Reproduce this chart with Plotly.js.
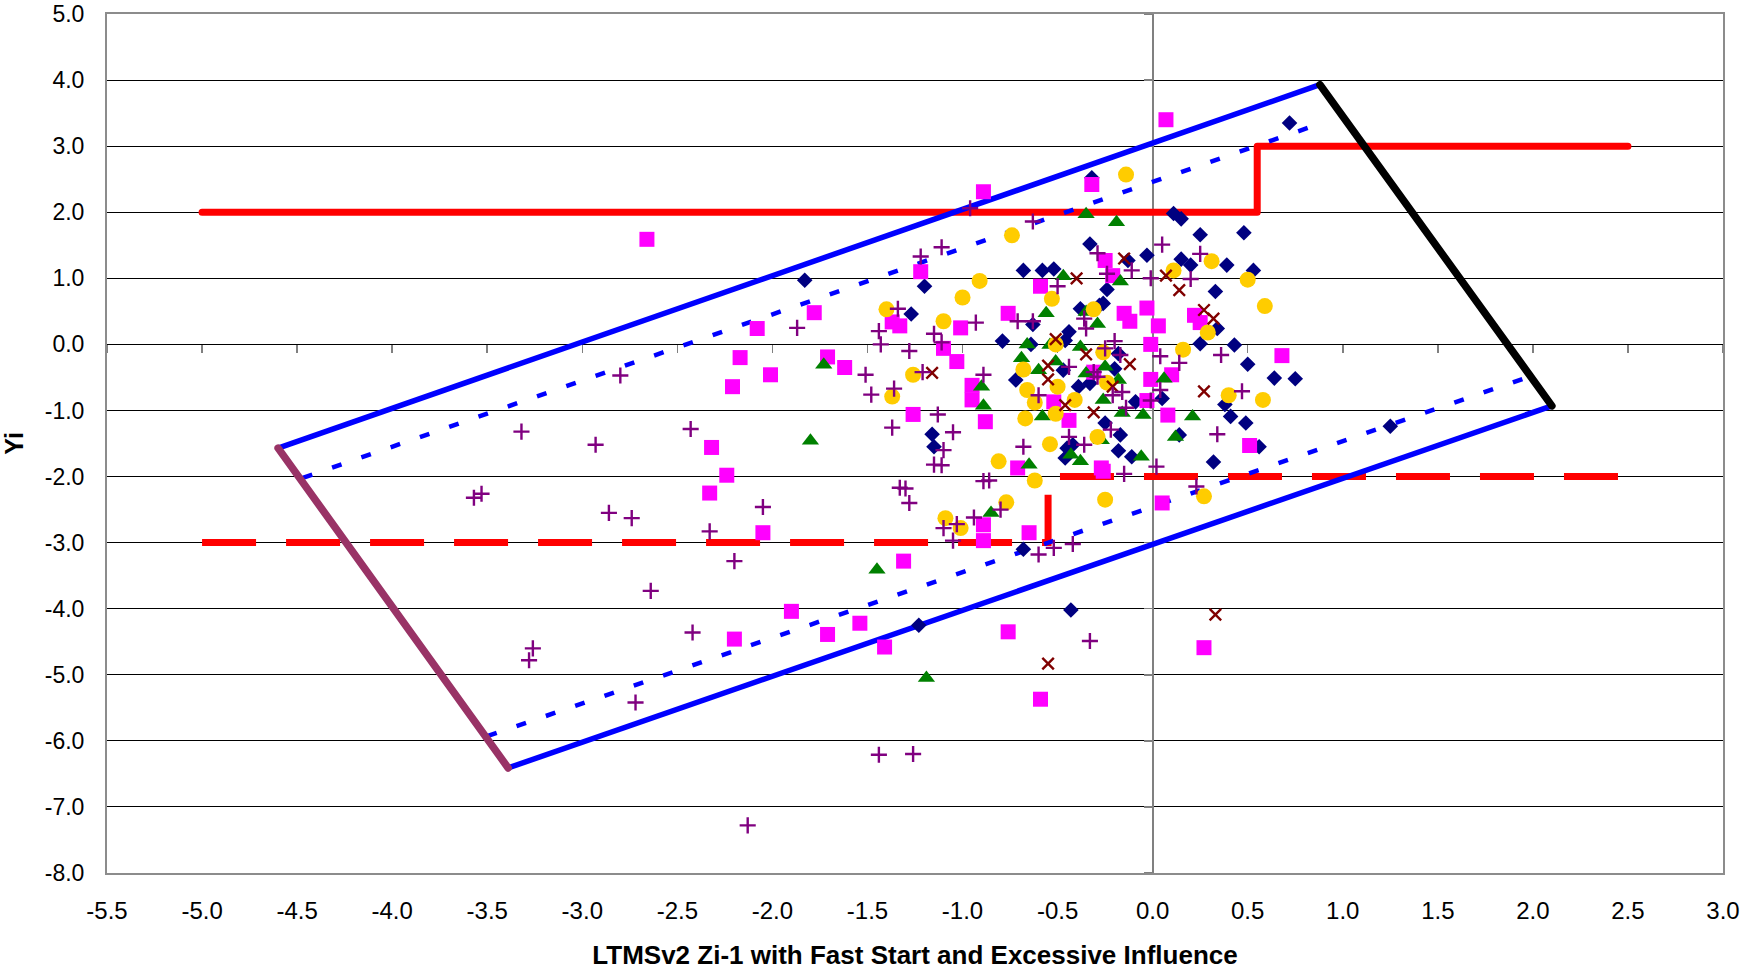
<!DOCTYPE html>
<html>
<head>
<meta charset="utf-8">
<script src="https://cdn.plot.ly/plotly-3.0.1.min.js"></script>
<style>
  html, body { margin: 0; padding: 0; background: #fff; }
  #chart { width: 1741px; height: 971px; }
  .traceredsolid .js-line, .traceblackedge .js-line, .tracemaroonedge .js-line { stroke-linecap: round; stroke-linejoin: round; }
</style>
</head>
<body>
<div id="chart"></div>
<script>
// ---------- tick labels ----------
const xTickVals = [-5.5, -5.0, -4.5, -4.0, -3.5, -3.0, -2.5, -2.0, -1.5, -1.0, -0.5, 0.0, 0.5, 1.0, 1.5, 2.0, 2.5, 3.0];
const xTickText = ['-5.5', '-5.0', '-4.5', '-4.0', '-3.5', '-3.0', '-2.5', '-2.0', '-1.5', '-1.0', '-0.5', '0.0', '0.5', '1.0', '1.5', '2.0', '2.5', '3.0'];
const yTickVals = [5, 4, 3, 2, 1, 0, -1, -2, -3, -4, -5, -6, -7, -8];
const yTickText = ['5.0', '4.0', '3.0', '2.0', '1.0', '0.0', '-1.0', '-2.0', '-3.0', '-4.0', '-5.0', '-6.0', '-7.0', '-8.0'];

// ---------- limit / boundary lines ----------
const upperLimitX = [-5.0, 0.55, 0.55, 2.5];
const upperLimitY = [2.0, 2.0, 3.0, 3.0];
const lowerLimitX = [-5.0, -0.55, -0.55, 2.5];
const lowerLimitY = [-3.0, -3.0, -2.0, -2.0];
const outerTopX = [-4.60, 0.88];
const outerTopY = [-1.57, 3.93];
const outerBottomX = [-3.39, 2.10];
const outerBottomY = [-6.41, -0.93];
const innerTopX = [-4.47, 0.89];
const innerTopY = [-2.02, 3.35];
const innerBottomX = [-3.50, 1.95];
const innerBottomY = [-5.93, -0.52];
const rightEdgeX = [0.88, 2.10];
const rightEdgeY = [3.93, -0.93];
const leftEdgeX = [-4.60, -3.39];
const leftEdgeY = [-1.57, -6.41];

// ---------- series: navy diamonds ----------
const navyX = [-1.83, -1.20, -1.27, -0.68, -0.58, -0.52, -0.32, -0.33, -0.24, -0.26, -0.38, -0.79, -0.63, -0.44, -0.46, -0.64, -0.28, -0.72, -0.47, -0.39, -0.33, -0.20, -0.18, -0.09, 0.05, -0.25, -0.17, -0.18, -0.11, -0.45, -0.46, -0.42, 0.14, -1.16, -1.15, -0.68, -0.43, -1.23, 0.72, 0.25, 0.48, -0.03, 0.15, 0.20, 0.39, 0.53, -0.13, 0.11, 0.15, 0.33, 0.25, 0.43, 0.34, 0.50, 0.64, 0.75, 0.38, 0.41, 0.49, 0.56, 0.32, 1.25];
const navyY = [0.97, 0.88, 0.46, 1.12, 1.12, 1.14, 2.52, 1.52, 0.83, 0.62, 0.54, 0.05, 0.30, 0.19, 0.06, 0.00, 0.59, -0.54, -0.39, -0.64, -0.59, -0.37, -0.14, -0.87, -0.82, -1.19, -1.37, -1.61, -1.70, -1.57, -1.72, -1.52, -1.37, -1.36, -1.55, -3.10, -4.02, -4.25, 3.35, 1.66, 1.69, 1.35, 1.29, 1.20, 1.20, 1.12, 1.27, 1.98, 1.90, 0.80, 0.01, -0.01, 0.24, -0.30, -0.51, -0.52, -0.91, -1.09, -1.19, -1.55, -1.78, -1.24];

// ---------- series: magenta squares ----------
const magentaX = [-2.66, -1.78, -2.08, -2.17, -2.01, -2.21, -1.71, -1.62, -0.89, -0.32, -0.25, -0.21, -1.22, -0.59, -0.15, -0.12, -1.37, -1.33, -1.01, -1.10, -1.03, -0.76, -0.03, 0.03, 0.22, 0.25, -0.01, -0.01, 0.10, 0.08, -0.03, -0.44, -0.52, -0.31, -0.71, -0.27, 0.07, 0.68, 0.51, 0.05, 0.27, -0.26, -1.26, -0.88, -0.95, -0.95, -0.89, -0.89, -0.65, -1.31, -0.76, -2.32, -2.24, -2.33, -2.05, -1.90, -1.71, -1.54, -2.20, -1.41, -0.59];
const magentaY = [1.59, 0.48, 0.24, -0.20, -0.46, -0.64, -0.19, -0.35, 2.31, 2.42, 1.27, 1.04, 1.10, 0.88, 0.47, 0.35, 0.34, 0.28, 0.25, -0.06, -0.26, 0.47, 0.55, 0.28, 0.44, 0.33, 0.00, -0.53, -0.46, -1.07, -0.85, -1.15, -0.87, -0.42, -1.87, -1.87, 3.40, -0.17, -1.53, -2.40, -4.59, -1.92, -1.06, -1.17, -0.62, -0.84, -2.73, -2.97, -2.85, -3.28, -4.35, -1.56, -1.98, -2.25, -2.85, -4.04, -4.39, -4.22, -4.46, -4.58, -5.37];

// ---------- series: green triangles ----------
const greenX = [-1.73, -0.35, -0.19, -0.17, -0.47, -0.56, -0.35, -0.29, -0.66, -0.54, -0.38, -0.69, -0.60, -0.51, -0.25, -0.35, -0.18, -0.26, -0.16, -0.05, -0.58, 0.06, 0.12, -0.43, -0.38, -0.06, -0.65, -0.27, 0.21, -0.90, -0.89, -0.85, -1.80, -1.45, -1.19];
const greenY = [-0.31, 1.97, 1.85, 0.95, 1.03, 0.47, 0.49, 0.31, 0.00, -0.01, -0.04, -0.21, -0.39, -0.26, -0.34, -0.44, -0.54, -0.84, -1.04, -1.07, -1.09, -0.52, -1.40, -1.67, -1.77, -1.70, -1.82, -1.45, -1.09, -0.64, -0.93, -2.55, -1.46, -3.41, -5.05];

// ---------- series: yellow circles ----------
const yellowX = [-1.40, -1.37, -0.74, -0.14, -0.91, -1.00, -0.53, -0.31, -1.10, -0.51, -0.26, -1.26, 0.16, -0.68, -0.66, -0.62, -0.50, -0.41, -0.24, -0.51, -0.67, -0.54, -0.29, -0.81, 0.31, 0.11, 0.50, 0.59, 0.29, 0.40, 0.58, -0.25, 0.27, -0.62, -0.77, -1.09, -1.01];
const yellowY = [0.53, -0.79, 1.65, 2.57, 0.96, 0.71, 0.69, 0.53, 0.35, 0.00, -0.12, -0.46, -0.08, -0.38, -0.69, -0.88, -0.64, -0.84, -0.58, -1.05, -1.12, -1.51, -1.40, -1.77, 1.26, 1.12, 0.98, 0.58, 0.18, -0.77, -0.84, -2.35, -2.30, -2.06, -2.39, -2.63, -2.78];

// ---------- series: dark red crosses (x) ----------
const crossX = [-0.15, -0.40, -1.16, -0.51, -0.35, -0.55, -0.55, -0.12, -0.46, -0.31, -0.21, 0.07, 0.14, 0.27, 0.32, 0.27, 0.33, -0.55];
const crossY = [1.30, 1.00, -0.43, 0.08, -0.15, -0.32, -0.53, -0.30, -0.92, -1.03, -0.64, 1.04, 0.82, 0.52, 0.39, -0.71, -4.09, -4.83];

// ---------- series: purple plus ----------
const plusX = [-3.32, -3.57, -3.53, -3.26, -3.28, -2.93, -2.80, -2.86, -2.74, -2.64, -2.72, -2.43, -2.42, -2.33, -2.20, -2.05, -2.13, -1.87, -1.44, -1.26, -1.44, -1.43, -1.51, -1.48, -1.36, -1.37, -1.33, -1.34, -1.22, -1.11, -0.96, -0.63, -0.29, -0.24, -0.50, -0.36, -0.35, -0.93, -0.71, -0.63, -1.15, -1.11, -1.28, -1.21, -0.89, -0.20, -0.25, -0.17, 0.04, 0.14, -0.44, -0.31, -0.29, -0.60, -0.21, 0.04, -0.01, -0.14, -0.22, -0.44, -0.36, -0.68, 0.02, -1.13, -1.05, -1.10, -1.15, -1.11, -0.89, -0.86, -1.30, -1.28, -0.80, -0.94, -1.10, -1.03, -1.05, -0.60, -0.52, -0.42, -0.15, -0.33, -0.16, 0.05, 0.25, -0.11, -0.01, 0.20, 0.36, 0.47, 0.34, 0.23];
const plusY = [-1.32, -2.32, -2.26, -4.60, -4.78, -1.52, -0.47, -2.55, -2.63, -3.73, -5.42, -1.28, -4.36, -2.83, -3.28, -2.46, -7.28, 0.25, -6.21, -6.20, 0.20, 0.00, -0.46, -0.76, -0.67, -1.26, -2.17, 0.54, 1.33, 1.47, 2.06, 1.86, 1.38, 1.07, 0.88, 0.39, 0.24, 0.33, 0.35, 0.35, 0.16, 0.03, -0.10, -0.42, -0.46, 0.05, -0.06, -0.16, -0.18, -0.28, -0.34, -0.42, -0.49, -0.77, -0.77, -0.69, -0.85, -0.96, -1.29, -1.40, -1.52, -1.55, -1.85, -1.06, -1.33, -1.60, -1.82, -1.83, -2.07, -2.06, -2.18, -2.40, -2.50, -2.62, -2.78, -2.72, -2.97, -3.18, -3.08, -3.02, -1.96, -4.49, -0.72, 1.51, 1.37, 1.12, 1.00, 0.99, -0.16, -0.71, -1.36, -2.15];

// ---------- build traces ----------
function lineTrace(x, y, color, width, dash, uid) {
  const t = { type: 'scatter', mode: 'lines', x: x, y: y, hoverinfo: 'skip',
              line: { color: color, width: width, dash: dash || 'solid' } };
  if (uid) t.uid = uid;
  return t;
}
function markerTrace(x, y, symbol, size, color, lineWidth) {
  const m = { symbol: symbol, size: size, color: color };
  m.line = lineWidth ? { color: color, width: lineWidth } : { width: 0 };
  return { type: 'scatter', mode: 'markers', x: x, y: y, marker: m };
}

const traces = [
  // empty trace carrying the crossing axes (x = 0 and y = 0)
  { type: 'scatter', mode: 'markers', x: [], y: [], xaxis: 'x2', yaxis: 'y2', hoverinfo: 'skip' },
  lineTrace(upperLimitX, upperLimitY, '#FF0000', 7, 'solid', 'redsolid'),
  lineTrace(lowerLimitX, lowerLimitY, '#FF0000', 7, '54px,30px'),
  lineTrace(outerTopX, outerTopY, '#0000FF', 5.5),
  lineTrace(outerBottomX, outerBottomY, '#0000FF', 5.5),
  lineTrace(innerTopX, innerTopY, '#0000FF', 4.5, '10px,21px'),
  lineTrace(innerBottomX, innerBottomY, '#0000FF', 4.5, '10px,21px'),
  lineTrace(rightEdgeX, rightEdgeY, '#000000', 7.5, 'solid', 'blackedge'),
  lineTrace(leftEdgeX, leftEdgeY, '#993366', 7.5, 'solid', 'maroonedge'),
  markerTrace(navyX, navyY, 'diamond', 12, '#000080'),
  markerTrace(magentaX, magentaY, 'square', 15, '#FF00FF'),
  markerTrace(greenX, greenY, 'triangle-up', 15, '#008000'),
  markerTrace(yellowX, yellowY, 'circle', 16, '#FFCC00'),
  markerTrace(crossX, crossY, 'x-thin-open', 11.5, '#800000', 2.4),
  markerTrace(plusX, plusY, 'cross-thin-open', 11.5, '#800080', 2.4)
];

const xTickFont = { family: 'Liberation Sans, Arial, sans-serif', size: 24, color: '#000000' };
const yTickFont = { family: 'Liberation Sans, Arial, sans-serif', size: 23, color: '#000000' };
const xRange = [xTickVals[0], xTickVals[xTickVals.length - 1]];
const yRange = [yTickVals[yTickVals.length - 1], yTickVals[0]];

const layout = {
  width: 1741, height: 971,
  margin: { l: 107, r: 18, t: 14, b: 98, pad: 0 },
  paper_bgcolor: '#ffffff', plot_bgcolor: '#ffffff',
  showlegend: false,
  font: { family: 'Liberation Sans, Arial, sans-serif', color: '#000000' },
  xaxis: {
    range: xRange, tickvals: xTickVals, ticktext: xTickText,
    showgrid: false, zeroline: false, showline: true, mirror: true,
    linecolor: '#8c8c8c', linewidth: 2, ticks: '',
    tickfont: xTickFont, ticklabelstandoff: 15, ticklabeloverflow: 'allow',
    title: { text: '<b>LTMSv2 Zi-1 with Fast Start and Excessive Influence</b>',
             font: { family: 'Liberation Sans, Arial, sans-serif', size: 26, color: '#000' }, standoff: 23 },
    automargin: false, fixedrange: true
  },
  yaxis: {
    range: yRange, tickvals: yTickVals, ticktext: yTickText,
    showgrid: true, gridcolor: '#000000', gridwidth: 1,
    zeroline: false, showline: true, mirror: true,
    linecolor: '#8c8c8c', linewidth: 2, ticks: '',
    tickfont: yTickFont, ticklabelstandoff: 16, ticklabeloverflow: 'allow',
    title: { text: '<b>Yi</b>', font: { family: 'Liberation Sans, Arial, sans-serif', size: 25, color: '#000' }, standoff: 16 },
    automargin: false, fixedrange: true
  },
  xaxis2: {
    overlaying: 'x', anchor: 'free',
    position: (0 - yRange[0]) / (yRange[1] - yRange[0]),
    range: xRange, tickvals: xTickVals, showticklabels: false,
    ticks: 'outside', ticklen: 8, tickwidth: 1.5, tickcolor: '#808080',
    showline: true, linecolor: '#000000', linewidth: 1,
    showgrid: false, zeroline: false, layer: 'below traces', fixedrange: true
  },
  yaxis2: {
    overlaying: 'y', anchor: 'free', side: 'left',
    position: (0 - xRange[0]) / (xRange[1] - xRange[0]),
    range: yRange, tickvals: yTickVals, showticklabels: false,
    ticks: 'outside', ticklen: 8, tickwidth: 1.5, tickcolor: '#808080',
    showline: true, linecolor: '#808080', linewidth: 2,
    showgrid: false, zeroline: false, layer: 'below traces', fixedrange: true
  }
};

Plotly.newPlot('chart', traces, layout, { displayModeBar: false, staticPlot: true });
</script>
</body>
</html>
